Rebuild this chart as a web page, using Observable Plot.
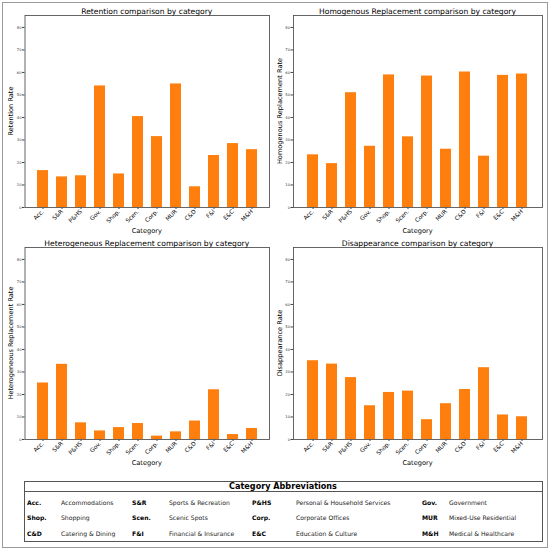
<!DOCTYPE html>
<html>
<head>
<meta charset="utf-8">
<script src="https://cdn.jsdelivr.net/npm/d3@7"></script>
<script src="https://cdn.jsdelivr.net/npm/@observablehq/plot@0.6"></script>
<style>
  html, body { margin: 0; padding: 0; background: #fff; }
  #root { position: relative; width: 550px; height: 550px; font-family: "DejaVu Sans", sans-serif; color: #000; }
  .abs { position: absolute; white-space: nowrap; }
  .title { font-size: 7.6px; transform: translate(-50%, -50%); }
  .xlab { font-size: 6.6px; transform: translate(-50%, -50%); }
  .ylab { font-size: 6.6px; transform: translate(-50%, -50%) rotate(-90deg); }
  .lg { font-size: 6.1px; transform: translateY(-50%); color: #222; }
  .lgb { font-size: 6.1px; font-weight: bold; transform: translateY(-50%); }
</style>
</head>
<body>
<div id="root"></div>
<script>
const categories = ["Acc.", "S&R", "P&HS", "Gov.", "Shop.", "Scen.", "Corp.", "MUR", "C&D", "F&I", "E&C", "M&H"];
const retention = [16.4, 13.6, 14.1, 54.0, 14.9, 40.4, 31.5, 54.9, 9.2, 23.1, 28.4, 25.7];
const homogeneous = [23.4, 19.5, 51.0, 27.2, 58.9, 31.4, 58.4, 25.9, 60.2, 22.8, 58.7, 59.3];
const heterogeneous = [25.1, 33.4, 7.4, 3.8, 5.3, 7.1, 1.5, 3.4, 8.2, 22.1, 2.2, 4.9];
const disappearance = [35.0, 33.5, 27.5, 15.0, 20.9, 21.5, 8.8, 15.9, 22.2, 31.9, 10.9, 10.1];
const yTicks = [0, 10, 20, 30, 40, 50, 60, 70, 80];
const fullNames = ["Accommodations", "Sports & Recreation", "Personal & Household Services", "Government",
  "Shopping", "Scenic Spots", "Corporate Offices", "Mixed-Use Residential",
  "Catering & Dining", "Financial & Insurance", "Education & Culture", "Medical & Healthcare"];
const titles = ["Retention comparison by category", "Homogenous Replacement comparison by category",
  "Heterogeneous Replacement comparison by category", "Disappearance comparison by category"];
const yLabels = ["Retention Rate", "Homogenous Replacement Rate", "Heterogeneous Replacement Rate", "Disappearance Rate"];
const seriesList = [retention, homogeneous, heterogeneous, disappearance];

const root = document.getElementById("root");
function addDiv(cls, text, x, y, extra) {
  const d = document.createElement("div");
  d.className = "abs " + cls;
  d.textContent = text;
  d.style.left = x + "px";
  d.style.top = y + "px";
  if (extra) Object.assign(d.style, extra);
  root.appendChild(d);
  return d;
}

// outer figure border
const border = document.createElement("div");
border.className = "abs";
Object.assign(border.style, {left: "2px", top: "2px", width: "544px", height: "544px", border: "1px solid #9a9a9a"});
root.appendChild(border);

const layout = [
  {left: 0, top: 0, ml: 24.5, mr: 6, ylx: 10.7},
  {left: 275, top: 0, ml: 18, mr: 8, ylx: 280},
  {left: 0, top: 232, ml: 24.5, mr: 6, ylx: 10.7},
  {left: 275, top: 232, ml: 18, mr: 8, ylx: 280}
];

layout.forEach((p, k) => {
  const W = 275, H = 240, mt = 15, mb = 33;
  const data = categories.map((c, i) => ({cat: c, v: seriesList[k][i]}));
  const chart = Plot.plot({
    width: W, height: H,
    marginLeft: p.ml, marginRight: p.mr, marginTop: mt, marginBottom: mb,
    style: {fontFamily: "DejaVu Sans", background: "transparent", overflow: "visible"},
    x: {domain: categories, paddingInner: 0.4, paddingOuter: 0.58},
    y: {domain: [0, 85.3]},
    marks: [
      Plot.barY(data, {x: "cat", y: "v", fill: "#ff7f0e"}),
      Plot.axisY({ticks: yTicks, tickSize: 2.5, tickPadding: 1, fontSize: 3.7, label: null, stroke: "#444", fill: "#333"}),
      Plot.axisX({tickRotate: -45, tickSize: 2, tickPadding: 1, fontSize: 5.8, label: null, stroke: "#444"}),
      Plot.frame({stroke: "#555", strokeWidth: 0.9})
    ]
  });
  chart.style.position = "absolute";
  chart.style.left = p.left + "px";
  chart.style.top = p.top + "px";
  root.appendChild(chart);
  const fx0 = p.left + p.ml, fx1 = p.left + W - p.mr;
  const cx = (fx0 + fx1) / 2;
  const fy0 = p.top + mt, fy1 = p.top + H - mb;
  addDiv("title", titles[k], cx, p.top + 10.5);
  addDiv("xlab", "Category", cx, p.top + 231);
  addDiv("ylab", yLabels[k], p.ylx, (fy0 + fy1) / 2);
});

// legend box
const box = document.createElement("div");
box.className = "abs";
Object.assign(box.style, {left: "24px", top: "481px", width: "517px", height: "59px", border: "1px solid #555"});
root.appendChild(box);
const line = document.createElement("div");
line.className = "abs";
Object.assign(line.style, {left: "24px", top: "491px", width: "518px", height: "0px", borderTop: "1px solid #555"});
root.appendChild(line);
addDiv("title", "Category Abbreviations", 283, 486.3, {fontWeight: "bold", fontSize: "8.1px"});

const abbrX = [27, 132, 252, 422];
const nameX = [61, 169, 296, 449];
const rowY = [501.5, 517.3, 533];
categories.forEach((c, i) => {
  const r = Math.floor(i / 4), col = i % 4;
  addDiv("lgb", c, abbrX[col], rowY[r]);
  addDiv("lg", fullNames[i], nameX[col], rowY[r]);
});
</script>
</body>
</html>
